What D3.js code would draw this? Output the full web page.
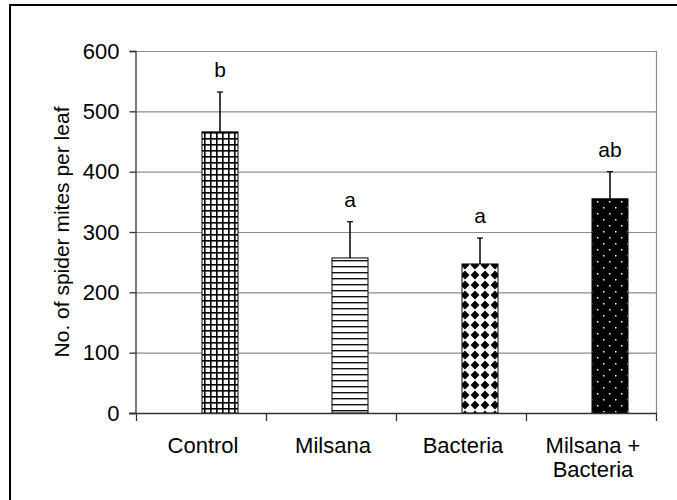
<!DOCTYPE html>
<html>
<head>
<meta charset="utf-8">
<script src="https://cdn.jsdelivr.net/npm/d3@7"></script>
<style>
  body { margin: 0; background: #fff; }
  svg { display: block; font-family: "Liberation Sans", Arial, sans-serif; }
</style>
</head>
<body>
<svg id="chart" width="677" height="500"></svg>
<script>
const categories = [["Control"], ["Milsana"], ["Bacteria"], ["Milsana +", "Bacteria"]];
const means = [466, 257, 247, 355];
const errors = [66, 60, 43, 45];
const letters = ["b", "a", "a", "ab"];
const patterns = ["grid", "hlines", "diamonds", "dots"];
const yTicks = [0, 100, 200, 300, 400, 500, 600];

const svg = d3.select("#chart");
const plotL = 135, plotR = 656, plotT = 51, plotB = 413;

const x = d3.scaleBand().domain(d3.range(categories.length)).range([plotL + 1, plotR]).paddingInner(0);
const y = d3.scaleLinear().domain([0, 600]).range([plotB, plotT]);
const barW = 36;

// outer frame (only top and left edges are visible)
svg.append("path").attr("d", "M10,700 V5 H700").attr("fill", "none").attr("stroke", "#000").attr("stroke-width", 2);

// patterns
const defs = svg.append("defs");
const g1 = defs.append("pattern").attr("id", "grid").attr("patternUnits", "userSpaceOnUse").attr("width", 6).attr("height", 6);
g1.append("rect").attr("width", 6).attr("height", 6).attr("fill", "#fff");
g1.append("rect").attr("width", 1.6).attr("height", 6).attr("fill", "#000");
g1.append("rect").attr("width", 6).attr("height", 1.6).attr("fill", "#000");

const g2 = defs.append("pattern").attr("id", "hlines").attr("patternUnits", "userSpaceOnUse").attr("width", 6).attr("height", 6);
g2.append("rect").attr("width", 6).attr("height", 6).attr("fill", "#fff");
g2.append("rect").attr("y", 2).attr("width", 6).attr("height", 1.4).attr("fill", "#111");

const g3 = defs.append("pattern").attr("id", "diamonds").attr("patternUnits", "userSpaceOnUse").attr("width", 10).attr("height", 10);
g3.append("rect").attr("width", 10).attr("height", 10).attr("fill", "#fff");
g3.append("path").attr("d", "M5,0.6 L9.4,5 L5,9.4 L0.6,5 Z").attr("fill", "#000");

const g4 = defs.append("pattern").attr("id", "dots").attr("patternUnits", "userSpaceOnUse").attr("width", 12).attr("height", 12);
g4.append("rect").attr("width", 12).attr("height", 12).attr("fill", "#000");
g4.append("rect").attr("x", 3).attr("y", 3).attr("width", 1.5).attr("height", 1.5).attr("fill", "#fff");
g4.append("rect").attr("x", 9).attr("y", 9).attr("width", 1.5).attr("height", 1.5).attr("fill", "#fff");

// gridlines
svg.append("g").selectAll("line").data(yTicks.filter(d => d > 0)).join("line")
  .attr("x1", plotL).attr("x2", plotR)
  .attr("y1", d => y(d) + 0.5).attr("y2", d => y(d) + 0.5)
  .attr("stroke", "#8c8c8c").attr("stroke-width", 1.2);
svg.append("line").attr("x1", plotR + 0.5).attr("x2", plotR + 0.5).attr("y1", plotT).attr("y2", plotB)
  .attr("stroke", "#8c8c8c").attr("stroke-width", 1.2);

// bars
const bx = i => x(i) + x.bandwidth() / 2 + 1;
svg.append("g").selectAll("rect").data(means).join("rect")
  .attr("x", (d, i) => bx(i))
  .attr("y", d => y(d))
  .attr("width", barW)
  .attr("height", d => plotB - y(d))
  .attr("fill", (d, i) => `url(#${patterns[i]})`)
  .attr("stroke", "#000").attr("stroke-width", 1);

// error bars
const eg = svg.append("g");
means.forEach((m, i) => {
  const cx = bx(i) + barW / 2;
  eg.append("line").attr("x1", cx).attr("x2", cx).attr("y1", y(m)).attr("y2", y(m + errors[i]))
    .attr("stroke", "#000").attr("stroke-width", 1.5);
  eg.append("line").attr("x1", cx - 3).attr("x2", cx + 3).attr("y1", y(m + errors[i])).attr("y2", y(m + errors[i]))
    .attr("stroke", "#000").attr("stroke-width", 1.2);
});

// significance letters
svg.append("g").selectAll("text").data(letters).join("text")
  .attr("x", (d, i) => bx(i) + barW / 2)
  .attr("y", (d, i) => y(means[i] + errors[i]) - 15)
  .attr("text-anchor", "middle")
  .attr("font-size", 21)
  .text(d => d);

// y axis
const yAxis = svg.append("g").attr("transform", `translate(${plotL + 0.5},0)`)
  .call(d3.axisLeft(y).tickValues(yTicks).tickSize(6).tickPadding(10));
yAxis.select(".domain").attr("stroke", "#333").attr("stroke-width", 1.3);
yAxis.selectAll(".tick line").attr("stroke", "#333").attr("stroke-width", 1.3);
yAxis.selectAll(".tick text").attr("font-size", 22).attr("font-family", "Liberation Sans, Arial, sans-serif").attr("fill", "#000");

// x axis
svg.append("line").attr("x1", plotL - 6).attr("x2", plotR + 1).attr("y1", plotB + 0.5).attr("y2", plotB + 0.5)
  .attr("stroke", "#333").attr("stroke-width", 1.3);
const bounds = d3.range(categories.length + 1).map(i => i < categories.length ? x(i) : plotR);
svg.append("g").selectAll("line").data(bounds).join("line")
  .attr("x1", d => d + 0.5).attr("x2", d => d + 0.5)
  .attr("y1", plotB).attr("y2", plotB + 8)
  .attr("stroke", "#333").attr("stroke-width", 1.3);

const xl = svg.append("g").selectAll("text").data(categories).join("text")
  .attr("x", (d, i) => x(i) + x.bandwidth() / 2 + 2)
  .attr("y", 453)
  .attr("text-anchor", "middle")
  .attr("font-size", 22);
xl.selectAll("tspan").data(d => d).join("tspan")
  .attr("x", function () { return this.parentNode.getAttribute("x"); })
  .attr("dy", (d, i) => i === 0 ? 0 : 24)
  .text(d => d);

// y title
svg.append("text")
  .attr("transform", `translate(69,${(plotT + plotB) / 2}) rotate(-90)`)
  .attr("text-anchor", "middle")
  .attr("font-size", 21)
  .text("No. of spider mites per leaf");
</script>
</body>
</html>
